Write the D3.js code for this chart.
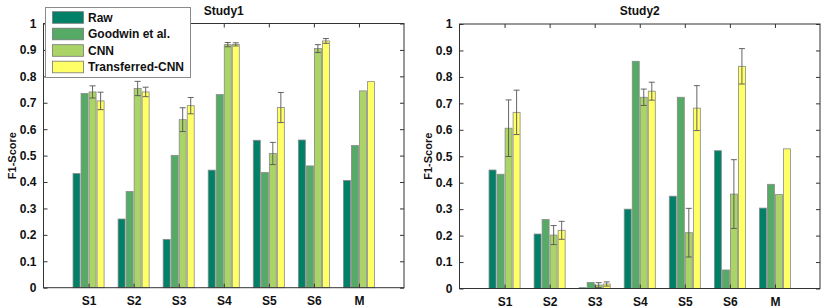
<!DOCTYPE html>
<html><head><meta charset="utf-8">
<script src="https://cdn.jsdelivr.net/npm/d3@7"></script>
<style>
body{margin:0;background:#fff;}
svg{display:block;font-family:"Liberation Sans",Arial,sans-serif;font-weight:bold;}
</style></head>
<body><svg id="chart" width="831" height="308"></svg>
<script>
const categories = ["S1","S2","S3","S4","S5","S6","M"];
const seriesNames = ["Raw","Goodwin et al.","CNN","Transferred-CNN"];
const seriesColors = ["#008066","#55aa66","#aad466","#ffff66"];
const yTicks = [0,0.1,0.2,0.3,0.4,0.5,0.6,0.7,0.8,0.9,1];

// Study1
const s1Raw     = [0.432,0.260,0.183,0.445,0.558,0.559,0.406];
const s1Goodwin = [0.735,0.364,0.501,0.731,0.436,0.461,0.538];
const s1CNN     = [0.741,0.754,0.636,0.920,0.508,0.905,0.745];
const s1TCNN    = [0.707,0.741,0.689,0.921,0.682,0.934,0.780];
const s1CNNErr  = [0.023,0.027,0.045,0.008,0.042,0.015,null];
const s1TCNNErr = [0.033,0.018,0.031,0.006,0.057,0.009,null];

// Study2
const s2Raw     = [0.448,0.206,0.003,0.300,0.349,0.521,0.304];
const s2Goodwin = [0.432,0.261,0.023,0.859,0.723,0.070,0.394];
const s2CNN     = [0.606,0.202,0.013,0.723,0.211,0.357,0.355];
const s2TCNN    = [0.666,0.220,0.017,0.746,0.682,0.840,0.528];
const s2CNNErr  = [0.107,0.036,0.009,0.031,0.092,0.130,null];
const s2TCNNErr = [0.084,0.034,0.008,0.034,0.085,0.067,null];

const svg = d3.select("#chart");

function panel(opts){
  const {x0,x1,yTop,yBot,title,series,errs,legend,labelX} = opts;
  const g = svg.append("g");
  const x = d3.scaleLinear().domain([0,8]).range([x0,x1]);
  const y = d3.scaleLinear().domain([0,1]).range([yBot,yTop]);
  const pitch = x(0.178)-x(0);
  const bw = x(0.155)-x(0);

  // bars
  series.forEach((vals,si)=>{
    const off = (si-1.5)*pitch;
    g.selectAll(null).data(vals).enter().append("rect")
      .attr("x",(d,i)=>x(i+1)+off-bw/2)
      .attr("y",d=>y(d))
      .attr("width",bw)
      .attr("height",d=>y(0)-y(d))
      .attr("fill",seriesColors[si])
      .attr("stroke","#8a8a8a")
      .attr("stroke-width",0.8);
  });
  // error bars
  errs.forEach((errVals,k)=>{
    const si = k+2;
    const vals = series[si];
    const off = (si-1.5)*pitch;
    errVals.forEach((e,i)=>{
      if(e==null) return;
      const cx = x(i+1)+off;
      const v = vals[i];
      g.append("line").attr("x1",cx).attr("x2",cx)
        .attr("y1",y(v+e)).attr("y2",y(v-e))
        .attr("stroke","#555").attr("stroke-width",0.9);
      [v+e,v-e].forEach(t=>{
        g.append("line").attr("x1",cx-3).attr("x2",cx+3)
          .attr("y1",y(t)).attr("y2",y(t))
          .attr("stroke","#555").attr("stroke-width",0.9);
      });
    });
  });

  // axes box
  g.append("rect").attr("x",x0).attr("y",yTop).attr("width",x1-x0).attr("height",yBot-yTop)
    .attr("fill","none").attr("stroke","#333").attr("stroke-width",1);

  const tickLen = 4;
  const ax = d3.axisLeft(y).tickValues(yTicks).tickSize(-tickLen).tickPadding(7)
    .tickFormat(d=>d===0?"0":(d===1?"1":d3.format(".1f")(d)));
  const gl = g.append("g").attr("transform",`translate(${x0},0)`).call(ax);
  const ar = d3.axisRight(y).tickValues(yTicks).tickSize(-tickLen).tickFormat("");
  const gr = g.append("g").attr("transform",`translate(${x1},0)`).call(ar);
  const xb = d3.axisBottom(x).tickValues(d3.range(1,8)).tickSize(-tickLen).tickPadding(9)
    .tickFormat(i=>categories[i-1]);
  const gb = g.append("g").attr("transform",`translate(0,${yBot})`).call(xb);
  const xt = d3.axisTop(x).tickValues(d3.range(1,8)).tickSize(-tickLen).tickFormat("");
  const gt = g.append("g").attr("transform",`translate(0,${yTop})`).call(xt);
  [gl,gr,gb,gt].forEach(a=>{
    a.select(".domain").remove();
    a.selectAll(".tick line").attr("stroke","#333");
    a.selectAll("text").attr("fill","#111").style("font-size","12px").style("font-weight","bold")
      .style("font-family","Liberation Sans, Arial, sans-serif");
  });

  // title
  g.append("text").attr("x",(x0+x1)/2).attr("y",yTop-9).attr("text-anchor","middle")
    .style("font-size","12px").attr("fill","#111").text(title);
  // y label
  g.append("text").attr("transform",`translate(${labelX},${(yTop+yBot)/2}) rotate(-90)`)
    .attr("text-anchor","middle").attr("dy","0.35em")
    .style("font-size","11px").attr("fill","#111").text("F1-Score");

  if(legend){
    const lg = g.append("g");
    lg.append("rect").attr("x",45.5).attr("y",7.5).attr("width",145).attr("height",70)
      .attr("fill","#fff").attr("stroke","#8a8a8a").attr("stroke-width",1);
    seriesNames.forEach((n,i)=>{
      const cy = 17.5 + i*16.5;
      lg.append("rect").attr("x",52.5).attr("y",cy-5.8).attr("width",31).attr("height",11.6)
        .attr("fill",seriesColors[i]).attr("stroke","#777").attr("stroke-width",0.8);
      lg.append("text").attr("x",88).attr("y",cy).attr("dy","0.36em")
        .style("font-size","12px").attr("fill","#111").text(n);
    });
  }
}

panel({x0:43.5,x1:404,yTop:23.5,yBot:287.7,title:"Study1",
  series:[s1Raw,s1Goodwin,s1CNN,s1TCNN],errs:[s1CNNErr,s1TCNNErr],legend:true,labelX:12});
panel({x0:459.5,x1:820,yTop:24,yBot:288.5,title:"Study2",
  series:[s2Raw,s2Goodwin,s2CNN,s2TCNN],errs:[s2CNNErr,s2TCNNErr],legend:false,labelX:428});
</script></body></html>
